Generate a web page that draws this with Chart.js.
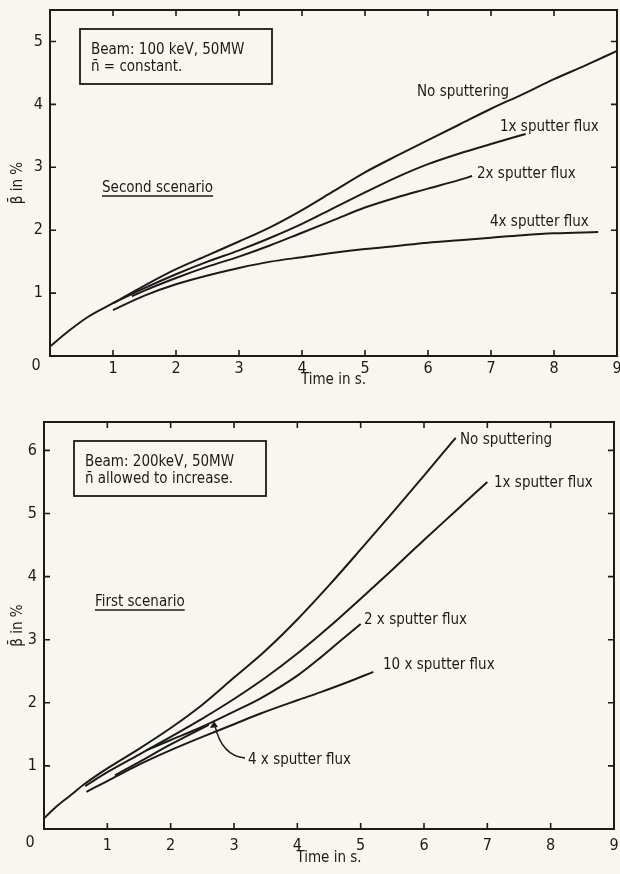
<!DOCTYPE html>
<html>
<head>
<meta charset="utf-8">
<script src="https://cdn.jsdelivr.net/npm/chart.js@4/dist/chart.umd.min.js"></script>
<style>
  html, body { margin: 0; padding: 0; background: #f8f6ee; }
  body { width: 620px; height: 874px; position: relative; overflow: hidden; }
  canvas { position: absolute; left: 0; }
  #topChart { top: 0; }
  #bottomChart { top: 400px; }
</style>
</head>
<body>
<canvas id="topChart" width="620" height="395"></canvas>
<canvas id="bottomChart" width="620" height="474"></canvas>
<script>
// tick values
const timeTicks = [0, 1, 2, 3, 4, 5, 6, 7, 8, 9]
const betaTicksTop = [0, 1, 2, 3, 4, 5]
const betaTicksBottom = [0, 1, 2, 3, 4, 5, 6]

// second scenario (top panel), time in s / beta in %
const topNoSputterT = [0, 0.3, 0.6, 1, 1.5, 2, 2.5, 3, 3.5, 4, 4.5, 5, 5.5, 6, 6.5, 7, 7.5, 8, 8.5, 9]
const topNoSputterB = [0.15, 0.40, 0.62, 0.84, 1.12, 1.38, 1.60, 1.82, 2.05, 2.32, 2.62, 2.92, 3.18, 3.43, 3.68, 3.93, 4.16, 4.40, 4.62, 4.85]
const top1xT = [1, 1.5, 2, 2.5, 3, 3.5, 4, 4.5, 5, 5.5, 6, 6.5, 7, 7.55]
const top1xB = [0.84, 1.08, 1.30, 1.50, 1.68, 1.88, 2.10, 2.35, 2.60, 2.84, 3.05, 3.22, 3.37, 3.53]
const top2xT = [1.3, 1.5, 2, 2.5, 3, 3.5, 4, 4.5, 5, 5.5, 6, 6.5, 6.7]
const top2xB = [0.95, 1.04, 1.24, 1.42, 1.58, 1.76, 1.96, 2.16, 2.36, 2.52, 2.66, 2.80, 2.86]
const top4xT = [1, 1.5, 2, 2.5, 3, 3.5, 4, 4.5, 5, 5.5, 6, 6.5, 7, 7.5, 8, 8.7]
const top4xB = [0.73, 0.96, 1.14, 1.28, 1.40, 1.50, 1.57, 1.64, 1.70, 1.75, 1.80, 1.84, 1.88, 1.92, 1.95, 1.97]

// first scenario (bottom panel)
const botNoSputterT = [0, 0.2, 0.4, 0.65, 1, 1.5, 2, 2.5, 3, 3.5, 4, 4.5, 5, 5.5, 6, 6.5]
const botNoSputterB = [0.17, 0.36, 0.52, 0.72, 0.96, 1.27, 1.60, 1.97, 2.40, 2.83, 3.32, 3.86, 4.43, 5.01, 5.60, 6.20]
const bot1xT = [0.65, 1, 1.5, 2, 2.5, 3, 3.5, 4, 4.5, 5, 5.5, 6, 6.5, 7]
const bot1xB = [0.68, 0.90, 1.18, 1.46, 1.75, 2.06, 2.40, 2.78, 3.20, 3.65, 4.11, 4.58, 5.04, 5.50]
const bot2xT = [1.62, 2, 2.5, 3, 3.42, 4, 4.37, 4.7, 5]
const bot2xB = [1.25, 1.41, 1.62, 1.86, 2.07, 2.43, 2.72, 3.00, 3.25]
const bot10xT = [0.67, 1, 1.5, 2, 2.5, 3, 3.42, 4, 4.37, 4.8, 5.2]
const bot10xB = [0.59, 0.76, 1.02, 1.25, 1.46, 1.66, 1.83, 2.04, 2.17, 2.33, 2.49]
const bot4xT = [1.12, 1.5, 2, 2.6]
const bot4xB = [0.85, 1.06, 1.34, 1.65]

const INK = '#1b1b1b'
const FONT = '"DejaVu Sans Condensed", "DejaVu Sans", sans-serif'

const pts = (xs, ys) => xs.map((x, i) => ({ x: x, y: ys[i] }))

// draws the box, inward ticks, corner zero and the hand lettering
const framePlugin = {
    id: 'frame',
    afterDraw(chart) {
        const ctx = chart.ctx
        const { left, right, top, bottom } = chart.chartArea
        const xs = chart.scales.x, ys = chart.scales.y
        ctx.save()
        ctx.strokeStyle = INK
        ctx.lineWidth = 2
        ctx.strokeRect(left, top, right - left, bottom - top)
        ctx.lineWidth = 1.6
        ctx.beginPath()
        for (const t of xs.ticks) {
            if (t.value <= xs.min || t.value >= xs.max) continue
            const px = xs.getPixelForValue(t.value)
            ctx.moveTo(px, bottom); ctx.lineTo(px, bottom - 6)
            ctx.moveTo(px, top); ctx.lineTo(px, top + 6)
        }
        for (const t of ys.ticks) {
            if (t.value <= ys.min || t.value >= ys.max) continue
            const py = ys.getPixelForValue(t.value)
            ctx.moveTo(left, py); ctx.lineTo(left + 6, py)
            ctx.moveTo(right, py); ctx.lineTo(right - 6, py)
        }
        ctx.stroke()

        const o = chart.options.plugins.frame
        ctx.fillStyle = INK
        ctx.font = '16px ' + FONT
        ctx.textAlign = 'center'
        ctx.textBaseline = 'middle'
        ctx.fillText('0', left - 14, bottom + o.zeroDrop)

        ctx.font = '15px ' + FONT
        ctx.textAlign = 'left'
        for (const n of o.notes) {
            ctx.fillText(n.text, n.x, n.y)
            if (n.underline) {
                const w = ctx.measureText(n.text).width
                ctx.lineWidth = 1.6
                ctx.beginPath()
                ctx.moveTo(n.x, n.y + 8); ctx.lineTo(n.x + w, n.y + 8)
                ctx.stroke()
            }
        }
        const b = o.box
        ctx.lineWidth = 1.8
        ctx.strokeRect(b.x, b.y, b.w, b.h)
        b.lines.forEach((s, i) => ctx.fillText(s, b.x + 11, b.y + 21 + i * 17))

        if (o.arrow) {
            const a = o.arrow
            ctx.lineWidth = 1.4
            ctx.beginPath()
            ctx.moveTo(a.from[0], a.from[1])
            ctx.quadraticCurveTo(a.ctrl[0], a.ctrl[1], a.to[0] + 1, a.to[1] + 5)
            ctx.stroke()
            ctx.beginPath()
            ctx.moveTo(a.to[0], a.to[1])
            ctx.lineTo(a.to[0] - 4, a.to[1] + 7)
            ctx.lineTo(a.to[0] + 4, a.to[1] + 6)
            ctx.closePath()
            ctx.fill()
        }
        ctx.restore()
    }
}

function makePanel(canvas, series, cfg) {
    return new Chart(canvas, {
        type: 'line',
        data: {
            datasets: series.map(s => ({
                data: s,
                borderColor: INK,
                borderWidth: 2,
                pointRadius: 0,
                cubicInterpolationMode: 'monotone',
                fill: false
            }))
        },
        options: {
            responsive: false,
            animation: false,
            layout: { padding: cfg.padding },
            plugins: {
                legend: { display: false },
                tooltip: { enabled: false },
                frame: cfg.frame
            },
            scales: {
                x: {
                    type: 'linear',
                    min: 0,
                    max: 9,
                    afterBuildTicks: s => { s.ticks = timeTicks.map(v => ({ value: v })) },
                    afterFit: s => { s.height = cfg.xHeight; s.paddingLeft = 0; s.paddingRight = 0 },
                    grid: { display: false, drawTicks: false },
                    border: { display: false },
                    ticks: {
                        color: INK,
                        padding: cfg.xTickPad,
                        maxRotation: 0,
                        font: { family: FONT, size: 16 },
                        callback: v => v === 0 ? '' : String(v)
                    },
                    title: {
                        display: true,
                        text: 'Time in s.',
                        color: INK,
                        font: { family: FONT, size: 15 },
                        padding: { top: 0, bottom: cfg.xTitlePad }
                    }
                },
                y: {
                    min: 0,
                    max: cfg.yMax,
                    afterBuildTicks: s => { s.ticks = cfg.yTicks.map(v => ({ value: v })) },
                    afterFit: s => { s.width = cfg.yWidth; s.paddingTop = 0; s.paddingBottom = 0 },
                    grid: { display: false, drawTicks: false },
                    border: { display: false },
                    ticks: {
                        color: INK,
                        padding: 7,
                        font: { family: FONT, size: 16 },
                        callback: v => v === 0 ? '' : String(v)
                    },
                    title: {
                        display: true,
                        text: 'β\u0304 in %',
                        color: INK,
                        font: { family: FONT, size: 15 },
                        padding: { top: 9, bottom: 0 }
                    }
                }
            }
        },
        plugins: [framePlugin]
    })
}

makePanel(document.getElementById('topChart'), [
    pts(topNoSputterT, topNoSputterB),
    pts(top1xT, top1xB),
    pts(top2xT, top2xB),
    pts(top4xT, top4xB)
], {
    padding: { top: 10, right: 3, left: 0, bottom: 0 },
    xHeight: 39, yWidth: 50, yMax: 5.5, yTicks: betaTicksTop,
    xTickPad: 3, xTitlePad: 6,
    frame: {
        zeroDrop: 10,
        notes: [
            { text: 'No sputtering', x: 417, y: 92 },
            { text: '1x sputter flux', x: 500, y: 127 },
            { text: '2x sputter flux', x: 477, y: 174 },
            { text: '4x sputter flux', x: 490, y: 222 },
            { text: 'Second scenario', x: 102, y: 188, underline: true }
        ],
        box: { x: 80, y: 29, w: 192, h: 55, lines: ['Beam: 100 keV, 50MW', 'n\u0304 = constant.'] }
    }
})

makePanel(document.getElementById('bottomChart'), [
    pts(botNoSputterT, botNoSputterB),
    pts(bot1xT, bot1xB),
    pts(bot2xT, bot2xB),
    pts(bot10xT, bot10xB),
    pts(bot4xT, bot4xB)
], {
    padding: { top: 22, right: 6, left: 0, bottom: 0 },
    xHeight: 45, yWidth: 44, yMax: 6.45, yTicks: betaTicksBottom,
    xTickPad: 7, xTitlePad: 7,
    frame: {
        zeroDrop: 14,
        notes: [
            { text: 'No sputtering', x: 460, y: 40 },
            { text: '1x sputter flux', x: 494, y: 83 },
            { text: '2 x sputter flux', x: 364, y: 220 },
            { text: '10 x sputter flux', x: 383, y: 265 },
            { text: '4 x sputter flux', x: 248, y: 360 },
            { text: 'First scenario', x: 95, y: 202, underline: true }
        ],
        box: { x: 74, y: 41, w: 192, h: 55, lines: ['Beam: 200keV, 50MW', 'n\u0304 allowed to increase.'] },
        arrow: { from: [245, 358], ctrl: [222, 356], to: [214, 321] }
    }
})
</script>
</body>
</html>
